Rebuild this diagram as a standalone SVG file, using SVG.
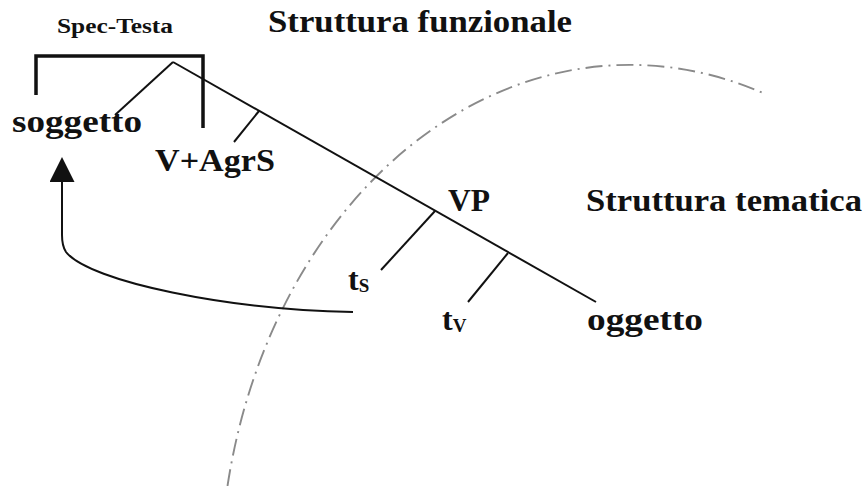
<svg xmlns="http://www.w3.org/2000/svg" width="866" height="486" viewBox="0 0 866 486">
<style>
.lbl{font-family:"Liberation Serif","Times New Roman",serif;font-weight:bold;fill:#111;font-size:32px}
.small{font-size:21px}
.ln{stroke:#111;stroke-width:2;fill:none;stroke-linecap:butt}
.sc{font-variant:small-caps;font-size:27px}
</style>
<defs>
<marker id="ah" markerUnits="userSpaceOnUse" viewBox="0 0 25 25" refX="0" refY="12.5" markerWidth="25" markerHeight="25" orient="auto">
<path d="M0,0 L25,12.5 L0,25 z" fill="#111"/>
</marker>
</defs>
<rect width="866" height="486" fill="#fff"/>
<path id="boundary" d="M227.5,486 A410,520 0 0 1 763,93" fill="none" stroke="#8a8a8a" stroke-width="1.9" stroke-dasharray="17 6 2 6"/>
<g id="titles">
<text id="t-funz" class="lbl" x="268" y="32" textLength="304" lengthAdjust="spacingAndGlyphs">Struttura funzionale</text>
<text id="t-tem" class="lbl" x="586" y="211" textLength="276" lengthAdjust="spacingAndGlyphs">Struttura tematica</text>
</g>
<g id="spec-testa">
<text class="lbl small" x="57" y="33" textLength="116" lengthAdjust="spacingAndGlyphs">Spec-Testa</text>
<path d="M36,95 V56 H203 V128" fill="none" stroke="#111" stroke-width="3.5"/>
</g>
<g id="connectors">
<path class="ln" d="M173,62 L596,302"/>
<path class="ln" d="M173,62 L115,115"/>
<path class="ln" d="M259,111 L234,142"/>
<path class="ln" d="M435,211 L381,270"/>
<path class="ln" d="M508,253 L468,302"/>
<path class="ln" d="M353,312 C230,310 90,282 66,252 Q62,246 62,235 V182" marker-end="url(#ah)"/>
</g>
<g id="n-soggetto"><text class="lbl" x="12" y="132" textLength="130" lengthAdjust="spacingAndGlyphs">soggetto</text></g>
<g id="n-vagrs"><text class="lbl" x="155" y="171" textLength="120" lengthAdjust="spacingAndGlyphs">V+AgrS</text></g>
<g id="n-vp"><text class="lbl" x="448" y="211" textLength="42" lengthAdjust="spacingAndGlyphs">VP</text></g>
<g id="n-ts"><text class="lbl" x="348" y="290">t<tspan class="sc" dy="2">s</tspan></text></g>
<g id="n-tv"><text class="lbl" x="442" y="330">t<tspan class="sc" dy="2">v</tspan></text></g>
<g id="n-oggetto"><text class="lbl" x="587" y="330" textLength="116" lengthAdjust="spacingAndGlyphs">oggetto</text></g>
</svg>
